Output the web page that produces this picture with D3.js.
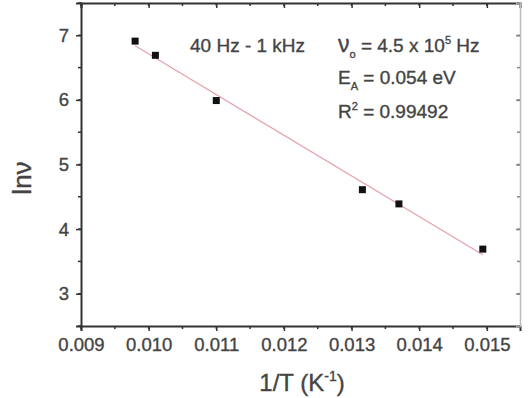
<!DOCTYPE html>
<html><head><meta charset="utf-8">
<script src="https://cdn.jsdelivr.net/npm/d3@7"></script>
<style>
html,body{margin:0;padding:0;background:#fff;}
svg{display:block;font-family:"Liberation Sans",Arial,sans-serif;}
svg text{stroke:#444;stroke-width:0.35px;}
</style></head>
<body>
<svg id="chart" width="528" height="398"></svg>
<script>
const invT = [0.0098, 0.0101, 0.0110, 0.01316, 0.0137, 0.01494];
const lnNu = [6.91, 6.69, 5.99, 4.61, 4.39, 3.69];
const xTicks = [0.009, 0.010, 0.011, 0.012, 0.013, 0.014, 0.015];
const yTicks = [3, 4, 5, 6, 7];
const xDomain = [0.009, 0.01549];
const yDomain = [2.5, 7.5];

const W = 528, H = 398;
const m = {left: 81, right: 8, top: 3, bottom: 72};
const svg = d3.select("#chart");
const x = d3.scaleLinear().domain(xDomain).range([m.left, W - m.right]);
const y = d3.scaleLinear().domain(yDomain).range([H - m.bottom, m.top]);

const textCol = "#444", axCol = "#333";

const xMinor = d3.range(0, 14).map(i => 0.009 + i * 0.0005).filter(v => v <= xDomain[1]);
const yMinor = d3.range(0, 11).map(i => 2.5 + i * 0.5);

// bottom axis
const gb = svg.append("g").attr("transform", `translate(0,${y.range()[0]})`)
  .call(d3.axisBottom(x).tickValues(xTicks).tickSize(5).tickFormat(d3.format(".3f")));
gb.select(".domain").attr("stroke", axCol).attr("stroke-width", 2);
gb.selectAll(".tick line").attr("stroke", axCol).attr("stroke-width", 1.5);
gb.selectAll(".tick text").attr("fill", textCol).attr("font-size", 18.5).attr("dy", null).attr("y", 25);
gb.selectAll(".minor").data(xMinor).enter().append("line")
  .attr("x1", d => x(d)).attr("x2", d => x(d)).attr("y1", 0).attr("y2", 3)
  .attr("stroke", axCol).attr("stroke-width", 1.5);

// top axis (inward ticks)
const gt = svg.append("g").attr("transform", `translate(0,${y.range()[1]})`)
  .call(d3.axisTop(x).tickValues(xTicks).tickSize(-5).tickFormat(""));
gt.select(".domain").attr("stroke", axCol).attr("stroke-width", 2);
gt.selectAll(".tick line").attr("stroke", axCol).attr("stroke-width", 1.5);
gt.selectAll(".minor").data(xMinor).enter().append("line")
  .attr("x1", d => x(d)).attr("x2", d => x(d)).attr("y1", 0).attr("y2", 3)
  .attr("stroke", axCol).attr("stroke-width", 1.5);

// left axis
const gl = svg.append("g").attr("transform", `translate(${x.range()[0]},0)`)
  .call(d3.axisLeft(y).tickValues(yTicks).tickSize(5).tickPadding(7).tickFormat(d3.format("d")));
gl.select(".domain").attr("stroke", axCol).attr("stroke-width", 2);
gl.selectAll(".tick line").attr("stroke", axCol).attr("stroke-width", 1.5);
gl.selectAll(".tick text").attr("fill", textCol).attr("font-size", 18.5);
gl.selectAll(".minor").data(yMinor).enter().append("line")
  .attr("x1", 0).attr("x2", -3).attr("y1", d => y(d)).attr("y2", d => y(d))
  .attr("stroke", axCol).attr("stroke-width", 1.5);

// right axis (inward, light)
const gr = svg.append("g").attr("transform", `translate(${x.range()[1]},0)`)
  .call(d3.axisRight(y).tickValues(yTicks).tickSize(-4).tickFormat(""));
gr.select(".domain").attr("stroke", "#bbb").attr("stroke-width", 1.5);
gr.selectAll(".tick line").attr("stroke", "#888").attr("stroke-width", 1.5);
gr.selectAll(".minor").data(yMinor).enter().append("line")
  .attr("x1", 0).attr("x2", -3).attr("y1", d => y(d)).attr("y2", d => y(d))
  .attr("stroke", "#888").attr("stroke-width", 1.5);

// linear fit
const mx = d3.mean(invT), my = d3.mean(lnNu);
const slope = d3.sum(invT.map((v, i) => (v - mx) * (lnNu[i] - my))) / d3.sum(invT.map(v => (v - mx) ** 2));
const icpt = my - slope * mx;
const xe = d3.extent(invT);
svg.append("line")
  .attr("x1", x(xe[0])).attr("y1", y(icpt + slope * xe[0]))
  .attr("x2", x(xe[1])).attr("y2", y(icpt + slope * xe[1]))
  .attr("stroke", "#e3a3ac").attr("stroke-width", 1.3);

// points
svg.selectAll(".pt").data(invT).enter().append("rect")
  .attr("x", (d) => x(d) - 3.5).attr("y", (d, i) => y(lnNu[i]) - 3.5)
  .attr("width", 7).attr("height", 7).attr("fill", "#111");

// axis titles
svg.append("text").attr("transform", "translate(31,178) rotate(-90)")
  .attr("text-anchor", "middle").attr("fill", textCol).attr("font-size", 26).text("lnν");
const xt = svg.append("text").attr("x", 302).attr("y", 391).attr("text-anchor", "middle")
  .attr("fill", textCol).attr("font-size", 24);
xt.append("tspan").text("1/T (K");
xt.append("tspan").attr("font-size", 14).attr("dy", -10).text("-1");
xt.append("tspan").attr("dy", 10).text(")");

// annotations
svg.append("text").attr("x", 190).attr("y", 52).attr("fill", textCol).attr("font-size", 19)
  .text("40 Hz - 1 kHz");
const a1 = svg.append("text").attr("x", 338).attr("y", 52).attr("fill", textCol).attr("font-size", 19);
a1.append("tspan").attr("font-size", 23).text("ν");
a1.append("tspan").attr("font-size", 11).attr("dy", 6).text("o");
a1.append("tspan").attr("dy", -6).text(" = 4.5 x 10");
a1.append("tspan").attr("font-size", 11).attr("dy", -8).text("5");
a1.append("tspan").attr("dy", 8).text(" Hz");
const a2 = svg.append("text").attr("x", 338).attr("y", 84).attr("fill", textCol).attr("font-size", 19);
a2.append("tspan").text("E");
a2.append("tspan").attr("font-size", 11).attr("dy", 6).text("A");
a2.append("tspan").attr("dy", -6).text(" = 0.054 eV");
const a3 = svg.append("text").attr("x", 338).attr("y", 118).attr("fill", textCol).attr("font-size", 19);
a3.append("tspan").text("R");
a3.append("tspan").attr("font-size", 11).attr("dy", -8).text("2");
a3.append("tspan").attr("dy", 8).text(" = 0.99492");
</script>
</body></html>
